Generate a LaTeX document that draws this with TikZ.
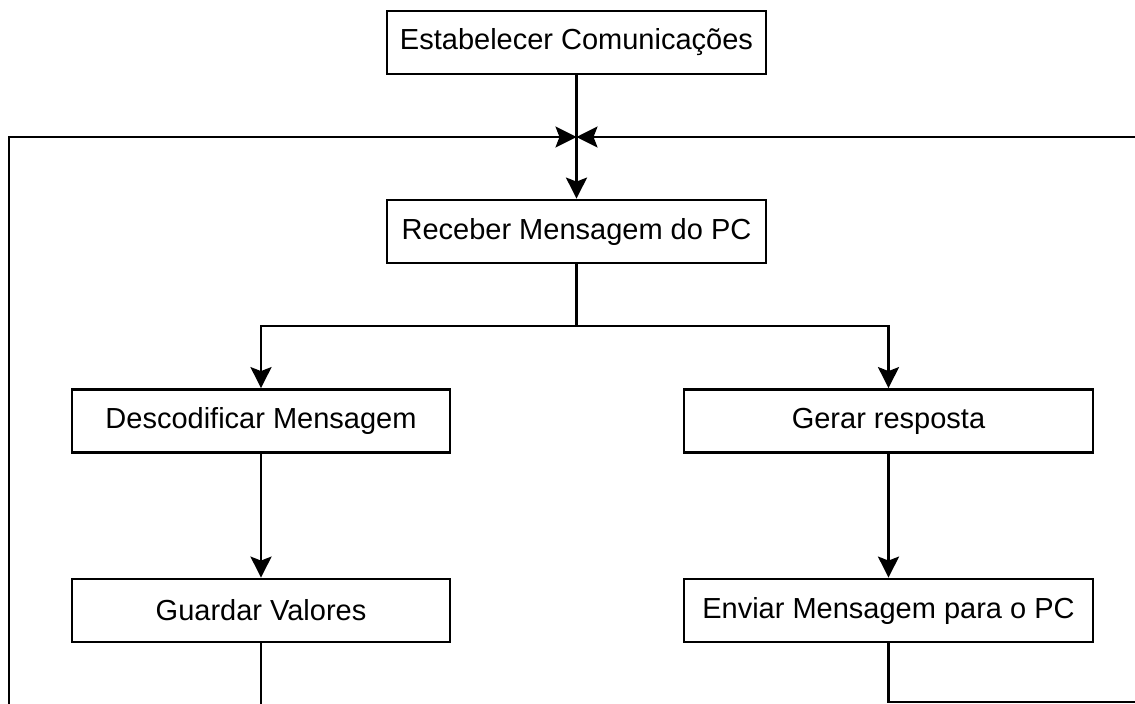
\documentclass[tikz,border=0pt]{standalone}
\usepackage{fontspec}
\setmainfont{Liberation Sans}
\usepackage{tikz}
\usetikzlibrary{arrows.meta}
\tikzset{procbox/.style={draw=black, line width=2.8pt, minimum height=63pt, inner sep=0pt,
    font=\fontsize{29}{34}\selectfont}}
\tikzset{flow/.style={line width=2.6pt, -{Stealth[length=21pt,width=21pt,inset=4pt]}}}
\tikzset{link/.style={line width=2.6pt}}

\begin{document}
\begin{tikzpicture}[x=1pt,y=-1pt]
\useasboundingbox (0,0) rectangle (1135,704);
\clip (0,0) rectangle (1135,704);
\node[procbox, minimum width=379pt] (est) at (576.5,42.5) {Estabelecer Comunica\c{c}\~oes};
\node[procbox, minimum width=379pt] (rec) at (576.5,231.5) {Receber Mensagem do PC};
\node[procbox, minimum width=378pt] (desc) at (261,421) {Descodificar Mensagem};
\node[procbox, minimum width=409pt] (ger) at (888.5,421) {Gerar resposta};
\node[procbox, minimum width=378pt] (gua) at (261,610.5) {Guardar Valores};
\node[procbox, minimum width=409pt] (env) at (888.5,610.5) {Enviar Mensagem para o PC};
\coordinate (meet) at (576.5,137);
\coordinate (fork) at (576.5,326);
%\node at (576.5,137) {x};
\draw[flow] (est) -- (rec);
\draw[link] (rec) -- (fork);
\draw[flow] (fork) -| (desc);
\draw[flow] (fork) -| (ger);
\draw[flow] (desc) -- (gua);
\draw[flow] (ger) -- (env);
\draw[flow] (gua.south) -- (261,720) -- (9,720) -- (9,137) -- (meet);
\draw[flow] (env.south) -- (888.5,702) -- (1150,702) -- (1150,137) -- (meet);
\end{tikzpicture}
\end{document}
